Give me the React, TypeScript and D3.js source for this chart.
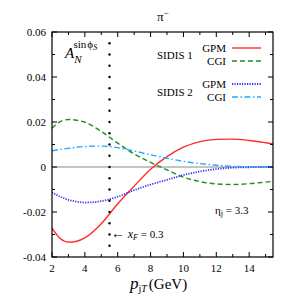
import { useEffect, useRef } from "react";
import * as d3 from "d3";

// p_jT grid (GeV)
const pT = [2, 2.5, 3, 3.5, 4, 5, 6, 7, 8, 9, 10, 11, 12, 13, 14, 15, 15.45];
// SIDIS 1
const gpm1 = [-0.0272, -0.0318, -0.0334, -0.0330, -0.0315, -0.0252, -0.0163, -0.0085, -0.0010, 0.0046, 0.0088, 0.0113, 0.0123, 0.0124, 0.0118, 0.0108, 0.0103];
const cgi1 = [0.0172, 0.0202, 0.0211, 0.0208, 0.0199, 0.0158, 0.0106, 0.0058, 0.0021, -0.0013, -0.0045, -0.0065, -0.0075, -0.0078, -0.0074, -0.0067, -0.0064];
// SIDIS 2
const gpm2 = [-0.0113, -0.0132, -0.0146, -0.0154, -0.0158, -0.0152, -0.0132, -0.0103, -0.0078, -0.0057, -0.0036, -0.0020, -0.0009, -0.0003, -0.0001, 0, 0];
const cgi2 = [0.0072, 0.0078, 0.0083, 0.0088, 0.0091, 0.0093, 0.0086, 0.0071, 0.0054, 0.0039, 0.0025, 0.0015, 0.0008, 0.0003, 0.0001, 0, 0];

const xTicks = [2, 4, 6, 8, 10, 12, 14];
const yTicks = [-0.04, -0.02, 0, 0.02, 0.04, 0.06];
const yTickLabels = ["-0.04", "-0.02", "0", "0.02", "0.04", "0.06"];
const xFcut = 5.5;

const series = [
  { name: "GPM", values: gpm1, color: "#ff2a2a", dash: null, w: 1.4 },
  { name: "CGI", values: cgi1, color: "#1f8f1f", dash: "5,3", w: 1.4 },
  { name: "GPM", values: gpm2, color: "#2f2fff", dash: "1.2,1.3", w: 1.8 },
  { name: "CGI", values: cgi2, color: "#22aaff", dash: "6,2.5,1.5,2.5", w: 1.4 },
];

export default function App() {
  const ref = useRef<SVGSVGElement>(null);

  const width = 291;
  const height = 302;
  const margin = { top: 32, right: 18, bottom: 45, left: 52 };

  useEffect(() => {
    const svg = d3.select(ref.current);
    svg.selectAll("*").remove();

    const x = d3.scaleLinear().domain([2, 15.45]).range([margin.left, width - margin.right]);
    const y = d3.scaleLinear().domain([-0.04, 0.06]).range([height - margin.bottom, margin.top]);
    const font = "'Liberation Serif', 'Times New Roman', serif";

    // zero line
    svg.append("line")
      .attr("x1", x(2)).attr("x2", x(15.45))
      .attr("y1", y(0)).attr("y2", y(0))
      .attr("stroke", "#888").attr("stroke-width", 1);

    // curves
    const line = d3.line<number>()
      .x((_, i) => x(pT[i]))
      .y(d => y(d))
      .curve(d3.curveMonotoneX);

    series.forEach(s => {
      svg.append("path")
        .attr("d", line(s.values))
        .attr("fill", "none")
        .attr("stroke", s.color)
        .attr("stroke-width", s.w)
        .attr("stroke-dasharray", s.dash);
    });

    // x_F = 0.3 dotted line
    const dots = d3.range(-0.035, 0.0551, 0.005);
    svg.append("g").selectAll("circle")
      .data(dots)
      .enter()
      .append("circle")
      .attr("cx", x(xFcut))
      .attr("cy", d => y(d))
      .attr("r", 1.2)
      .attr("fill", "#000");

    // frame
    svg.append("rect")
      .attr("x", x(2)).attr("y", y(0.06))
      .attr("width", x(15.45) - x(2)).attr("height", y(-0.04) - y(0.06))
      .attr("fill", "none").attr("stroke", "#000").attr("stroke-width", 1.2);

    // ticks (inward, both sides)
    const ticks = svg.append("g").attr("stroke", "#000").attr("stroke-width", 1);
    d3.range(2, 15.5, 1).forEach(v => {
      const len = v % 2 === 0 ? 5 : 3;
      ticks.append("line").attr("x1", x(v)).attr("x2", x(v)).attr("y1", y(-0.04)).attr("y2", y(-0.04) - len);
      ticks.append("line").attr("x1", x(v)).attr("x2", x(v)).attr("y1", y(0.06)).attr("y2", y(0.06) + len);
    });
    d3.range(-0.04, 0.0601, 0.01).forEach((v, i) => {
      const len = i % 2 === 0 ? 5 : 3;
      ticks.append("line").attr("x1", x(2)).attr("x2", x(2) + len).attr("y1", y(v)).attr("y2", y(v));
      ticks.append("line").attr("x1", x(15.45)).attr("x2", x(15.45) - len).attr("y1", y(v)).attr("y2", y(v));
    });

    // tick labels
    svg.append("g").selectAll("text")
      .data(xTicks).enter().append("text")
      .attr("x", d => x(d)).attr("y", y(-0.04) + 15)
      .attr("text-anchor", "middle")
      .style("font-family", font).style("font-size", "11px")
      .text(d => d);
    svg.append("g").selectAll("text")
      .data(yTicks).enter().append("text")
      .attr("x", x(2) - 6).attr("y", d => y(d) + 4)
      .attr("text-anchor", "end")
      .style("font-family", font).style("font-size", "11px")
      .text((_, i) => yTickLabels[i]);

    // title
    svg.append("text")
      .attr("x", 157).attr("y", 21)
      .style("font-family", font).style("font-size", "13px")
      .html('π<tspan dy="-5" font-size="9px">−</tspan>');

    // y label: A_N^{sin phi_S}
    svg.append("text")
      .attr("x", 65).attr("y", 58)
      .style("font-family", font).style("font-size", "15px").style("font-style", "italic")
      .html('A<tspan dy="5" font-size="11px">N</tspan><tspan dx="-8" dy="-15" font-size="11px" font-style="normal">sin</tspan><tspan dx="1" font-size="11px" font-style="normal">ϕ</tspan><tspan dy="2" font-size="8px">S</tspan>');

    // legend
    const legend = svg.append("g").style("font-family", font).style("font-size", "11px");
    legend.append("text").attr("x", 157).attr("y", 59).text("SIDIS 1");
    legend.append("text").attr("x", 157).attr("y", 96).text("SIDIS 2");
    const legY = [48, 61, 84, 97];
    series.forEach((s, i) => {
      legend.append("text")
        .attr("x", 226).attr("y", legY[i] + 4)
        .attr("text-anchor", "end")
        .text(s.name);
      legend.append("line")
        .attr("x1", 232).attr("x2", 261)
        .attr("y1", legY[i]).attr("y2", legY[i])
        .attr("stroke", s.color)
        .attr("stroke-width", s.w)
        .attr("stroke-dasharray", s.dash);
    });

    // annotations
    svg.append("text")
      .attr("x", 111).attr("y", 238)
      .style("font-family", font).style("font-size", "11px")
      .html('<tspan font-size="14px">←</tspan> <tspan font-style="italic" font-size="12px">x</tspan><tspan dy="2" font-size="8px" font-style="italic">F</tspan><tspan dy="-2"> = 0.3</tspan>');
    svg.append("text")
      .attr("x", 215).attr("y", 214)
      .style("font-family", font).style("font-size", "11px")
      .html('η<tspan dy="2" font-size="8px">j</tspan><tspan dy="-2"> = 3.3</tspan>');

    // x label
    svg.append("text")
      .attr("x", 130).attr("y", 289)
      .style("font-family", font).style("font-size", "15px")
      .html('<tspan font-style="italic" font-size="17px">p</tspan><tspan dy="3" font-size="10px">j</tspan><tspan font-size="10px" font-style="italic">T</tspan><tspan dy="-3" dx="2">(GeV)</tspan>');
  });

  return (
    <svg ref={ref} width={width} height={height} style={{ position: "absolute", left: 0, top: 0 }}></svg>
  );
}
